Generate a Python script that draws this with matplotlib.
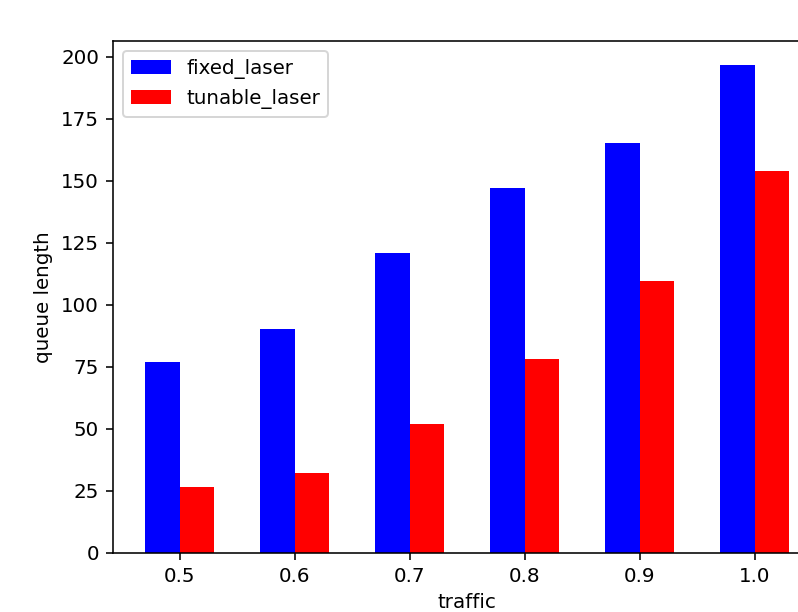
import numpy as np
import matplotlib
matplotlib.use('Agg')
import matplotlib.pyplot as plt

traffic = [0.5, 0.6, 0.7, 0.8, 0.9, 1.0]
fixed_laser = [77, 90, 121, 147, 165, 196.5]
tunable_laser = [26.5, 32, 52, 78, 109.5, 154]

ancho = 0.03
DPI = 143

fig = plt.figure(figsize=(798 / DPI, 612 / DPI), dpi=DPI)
ax = fig.add_axes([0.1416, 0.097, 0.888, 0.836])
ax.bar(np.array(traffic) - ancho, fixed_laser, ancho, align='edge', color='blue', label='fixed_laser')
ax.bar(traffic, tunable_laser, ancho, align='edge', color='red', label='tunable_laser')
ax.set_xticks(traffic)
ax.set_xticklabels([str(t) for t in traffic])
ax.set_xlabel('traffic')
ax.set_ylabel('queue length')
ax.legend(loc='upper left')

fig.savefig('out.png', dpi=DPI)
